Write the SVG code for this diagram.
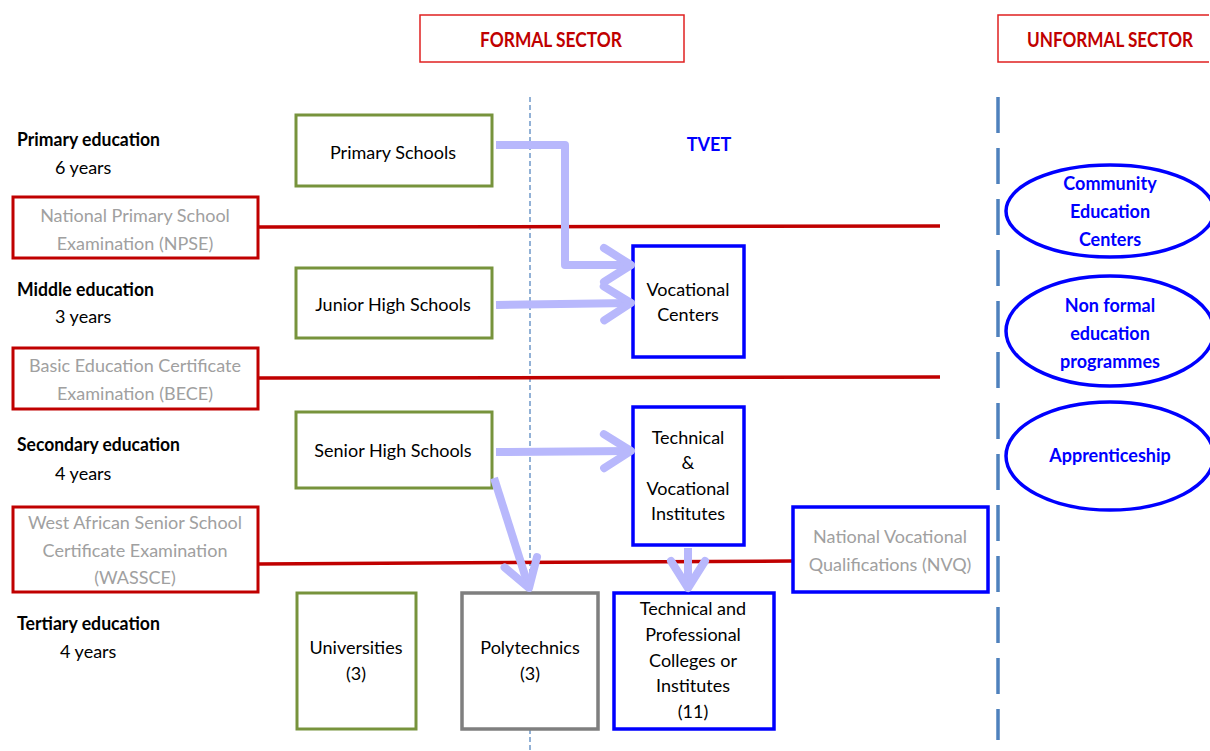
<svg xmlns="http://www.w3.org/2000/svg" width="1210" height="751" viewBox="0 0 1210 751">
<defs>
<style>
text{font-family:Lato,"Liberation Sans",sans-serif;font-size:18px;fill:#000;text-anchor:middle}
.lbl{text-anchor:start;font-weight:bold}
.yr{text-anchor:start}
.gray{fill:#a0a0a0}
.hdr{fill:#c00000;font-weight:bold;font-size:20px}
.blue{fill:#0000ff;font-weight:bold}
.exam{fill:#fff;stroke:#c00000;stroke-width:3}
.green{fill:#fff;stroke:#77933c;stroke-width:3}
.bbox{fill:#fff;stroke:#0000ff;stroke-width:3.5}
.gbox{fill:#fff;stroke:#7f7f7f;stroke-width:3.5}
.ell{fill:#fff;stroke:#0000ff;stroke-width:3.5}
.rline{stroke:#c00000;stroke-width:3.5;fill:none}
.arr{stroke:#b8b8fc;stroke-width:8;fill:none;stroke-linejoin:round;marker-end:url(#chev)}
</style>
<marker id="chev" markerUnits="userSpaceOnUse" markerWidth="60" markerHeight="60" viewBox="-40 -30 50 60" refX="0" refY="0" orient="auto" overflow="visible">
<path d="M-27,-17 L0,0 L-27,17" fill="none" stroke="#b8b8fc" stroke-width="8" stroke-linecap="round" stroke-linejoin="round"/>
</marker>
</defs>
<rect width="1210" height="751" fill="#fff"/>

<g id="headers">
<rect x="420" y="15" width="264" height="47" fill="#fff" stroke="#e02020" stroke-width="1.5"/>
<text class="hdr" x="551" y="47" textLength="142" lengthAdjust="spacingAndGlyphs">FORMAL SECTOR</text>
<path d="M1209,15 L998,15 L998,62 L1209,62" fill="#fff" stroke="#e02020" stroke-width="1.5"/>
<text class="hdr" x="1110" y="47" font-size="19" textLength="166" lengthAdjust="spacingAndGlyphs">UNFORMAL SECTOR</text>
<text class="blue" x="709" y="151" font-size="19">TVET</text>
</g>

<g id="separators">
<line x1="530" y1="97" x2="530" y2="751" stroke="#4a7ebb" stroke-width="1.2" stroke-dasharray="5 3"/>
<line x1="998" y1="97" x2="998" y2="740" stroke="#4f81bd" stroke-width="3.5" stroke-dasharray="36 15"/>
</g>

<g id="level-labels">
<text class="lbl" x="17" y="146" textLength="143" lengthAdjust="spacingAndGlyphs">Primary education</text>
<text class="yr" x="55" y="174">6 years</text>
<text class="lbl" x="17" y="296" textLength="137" lengthAdjust="spacingAndGlyphs">Middle education</text>
<text class="yr" x="55" y="323">3 years</text>
<text class="lbl" x="17" y="451" textLength="163" lengthAdjust="spacingAndGlyphs">Secondary education</text>
<text class="yr" x="55" y="480">4 years</text>
<text class="lbl" x="17" y="630" textLength="143" lengthAdjust="spacingAndGlyphs">Tertiary education</text>
<text class="yr" x="60" y="658">4 years</text>
</g>

<g id="exam-lines">
<line class="rline" x1="258" y1="227" x2="940" y2="226"/>
<line class="rline" x1="258" y1="378" x2="940" y2="377"/>
<line class="rline" x1="258" y1="564" x2="793" y2="561"/>
</g>

<g id="npse">
<rect class="exam" x="13" y="197" width="245" height="61"/>
<text class="gray" x="135" y="222">National Primary School</text>
<text class="gray" x="135" y="250">Examination (NPSE)</text>
</g>
<g id="bece">
<rect class="exam" x="13" y="348" width="245" height="61"/>
<text class="gray" x="135" y="372">Basic Education Certificate</text>
<text class="gray" x="135" y="400">Examination (BECE)</text>
</g>
<g id="wassce">
<rect class="exam" x="13" y="507" width="245" height="85"/>
<text class="gray" x="135" y="529">West African Senior School</text>
<text class="gray" x="135" y="557">Certificate Examination</text>
<text class="gray" x="135" y="584">(WASSCE)</text>
</g>

<g id="primary-schools">
<rect class="green" x="296" y="115" width="196" height="71"/>
<text x="393" y="159">Primary Schools</text>
</g>
<g id="junior-high">
<rect class="green" x="296" y="268" width="196" height="70"/>
<text x="393" y="311">Junior High  Schools</text>
</g>
<g id="senior-high">
<rect class="green" x="296" y="412" width="196" height="76"/>
<text x="393" y="457">Senior High  Schools</text>
</g>

<g id="vocational-centers">
<rect class="bbox" x="633" y="246" width="111" height="111"/>
<text x="688" y="296">Vocational</text>
<text x="688" y="321">Centers</text>
</g>
<g id="tvi">
<rect class="bbox" x="633" y="407" width="111" height="138"/>
<text x="688" y="444">Technical</text>
<text x="688" y="469">&amp;</text>
<text x="688" y="495">Vocational</text>
<text x="688" y="520">Institutes</text>
</g>
<g id="nvq">
<rect class="bbox" x="793" y="507" width="195" height="85"/>
<text class="gray" x="890" y="543">National Vocational</text>
<text class="gray" x="890" y="571">Qualifications (NVQ)</text>
</g>

<g id="universities">
<rect class="green" x="297" y="593" width="119" height="136"/>
<text x="356" y="654">Universities</text>
<text x="356" y="680">(3)</text>
</g>
<g id="polytechnics">
<rect class="gbox" x="462" y="593" width="136" height="136"/>
<text x="530" y="654">Polytechnics</text>
<text x="530" y="680">(3)</text>
</g>
<g id="tp-colleges">
<rect class="bbox" x="614" y="593" width="160" height="136"/>
<text x="693" y="615">Technical and</text>
<text x="693" y="641">Professional</text>
<text x="693" y="667">Colleges or</text>
<text x="693" y="692">Institutes</text>
<text x="693" y="718">(11)</text>
</g>

<g id="community">
<ellipse class="ell" cx="1110" cy="211" rx="104" ry="46"/>
<text class="blue" x="1110" y="190">Community</text>
<text class="blue" x="1110" y="218">Education</text>
<text class="blue" x="1110" y="246">Centers</text>
</g>
<g id="nonformal">
<ellipse class="ell" cx="1110" cy="331" rx="104" ry="55"/>
<text class="blue" x="1110" y="312">Non formal</text>
<text class="blue" x="1110" y="340">education</text>
<text class="blue" x="1110" y="368">programmes</text>
</g>
<g id="apprenticeship">
<ellipse class="ell" cx="1110" cy="456" rx="104" ry="54"/>
<text class="blue" x="1110" y="462">Apprenticeship</text>
</g>

<g id="connectors">
<path class="arr" d="M496,145 L565,145 L565,265 L631,265"/>
<path class="arr" d="M496,305 L631,303"/>
<path class="arr" d="M496,452 L631,451"/>
<path class="arr" d="M494,478 L529,588"/>
<path class="arr" d="M688,548 L688,588"/>
</g>
</svg>
